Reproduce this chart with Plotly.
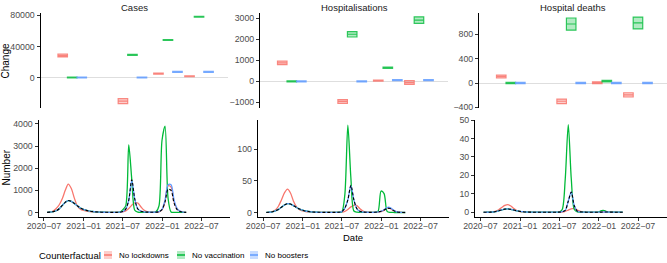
import datetime as dt
import plotly.graph_objects as go

W, H = 667, 263

# ---------------- data ----------------
counterfactuals = ["No lockdowns", "No vaccination", "No boosters"]
panel_titles = ["Cases", "Hospitalisations", "Hospital deaths"]

dates = [
    "2020-07-16", "2020-07-30", "2020-08-13", "2020-08-27", "2020-09-10", "2020-09-24",
    "2020-10-08", "2020-10-22", "2020-11-05", "2020-11-19", "2020-12-03", "2020-12-17",
    "2020-12-31", "2021-01-14", "2021-01-28", "2021-02-11", "2021-02-25", "2021-03-11",
    "2021-03-25", "2021-04-08", "2021-04-22", "2021-05-06", "2021-05-20", "2021-06-03",
    "2021-06-17", "2021-07-01", "2021-07-15", "2021-07-29", "2021-08-12", "2021-08-26",
    "2021-09-09", "2021-09-23", "2021-10-07", "2021-10-21", "2021-11-04", "2021-11-18",
    "2021-12-02", "2021-12-16", "2021-12-30", "2022-01-13", "2022-01-27", "2022-02-10",
    "2022-02-24", "2022-03-10", "2022-03-24", "2022-04-07", "2022-04-21",
]

# Cases (Number)
cases_actual = [5, 15, 40, 80, 170, 320, 460, 540, 500, 410, 300, 200,
                140, 95, 65, 45, 30, 20, 14, 10, 8, 6, 6, 7,
                12, 40, 150, 550, 1480, 600, 160, 60, 30, 18, 12, 12,
                15, 35, 130, 480, 1050, 1000, 420, 130, 45, 15, 6]
cases_no_lockdowns = [5, 15, 60, 180, 350, 620, 1000, 1280, 1080, 650, 300, 150,
                      90, 60, 42, 30, 20, 14, 10, 8, 6, 5, 5, 6,
                      10, 25, 70, 180, 330, 440, 430, 260, 110, 45, 20, 12,
                      12, 30, 120, 480, 1200, 1150, 480, 160, 55, 20, 8]
cases_no_vaccination = [5, 15, 40, 80, 170, 320, 460, 540, 500, 410, 300, 200,
                        140, 95, 65, 45, 30, 20, 14, 10, 8, 6, 6, 7,
                        15, 120, 300, 3050, 1500, 100, 15, 6, 5, 5, 5, 8,
                        30, 300, 3250, 3900, 650, 20, 5, 2, 1, 1, 1]
cases_no_boosters = [5, 15, 40, 80, 170, 320, 460, 540, 500, 410, 300, 200,
                     140, 95, 65, 45, 30, 20, 14, 10, 8, 6, 6, 7,
                     12, 40, 150, 550, 1450, 600, 160, 60, 30, 18, 12, 12,
                     15, 40, 140, 560, 1250, 1250, 560, 180, 60, 20, 8]

# Hospitalisations (Number)
hosp_actual = [0.2, 0.5, 1.2, 2.7, 5, 8.5, 12, 14, 13.5, 11, 8, 5.5,
               3.8, 2.5, 1.7, 1.1, 0.7, 0.5, 0.4, 0.3, 0.3, 0.3, 0.3, 0.3,
               0.5, 1.5, 7, 20, 43, 20, 6, 2, 0.8, 0.5, 0.4, 0.4,
               0.5, 1, 2, 4, 6.5, 6.5, 3.5, 1.3, 0.5, 0.2, 0.1]
hosp_no_lockdowns = [0.2, 0.5, 1.5, 4, 10, 20, 31, 37, 31, 18, 9, 4.5,
                     2.5, 1.5, 1, 0.7, 0.5, 0.4, 0.3, 0.3, 0.3, 0.3, 0.3, 0.3,
                     0.4, 0.8, 2, 5, 9, 11.5, 11, 6, 2.5, 1, 0.5, 0.4,
                     0.4, 0.6, 1.5, 3.5, 6.5, 6.5, 3.5, 1.3, 0.5, 0.2, 0.1]
hosp_no_vaccination = [0.2, 0.5, 1.2, 2.7, 5, 8.5, 12, 14, 13.5, 11, 8, 5.5,
                       3.8, 2.5, 1.7, 1.1, 0.7, 0.5, 0.4, 0.3, 0.3, 0.3, 0.3, 0.3,
                       0.5, 1, 28, 138, 55, 2.5, 0.6, 0.3, 0.3, 0.3, 0.3, 0.3,
                       0.4, 2, 34, 30, 2, 0.3, 0.2, 0.1, 0.1, 0.1, 0.1]
hosp_no_boosters = [0.2, 0.5, 1.2, 2.7, 5, 8.5, 12, 14, 13.5, 11, 8, 5.5,
                    3.8, 2.5, 1.7, 1.1, 0.7, 0.5, 0.4, 0.3, 0.3, 0.3, 0.3, 0.3,
                    0.5, 1.5, 7, 20, 42, 20, 6, 2, 0.8, 0.5, 0.4, 0.4,
                    0.5, 1, 2, 4.5, 8, 8, 4.5, 1.6, 0.6, 0.2, 0.1]

# Hospital deaths (Number)
deaths_actual = [0, 0, 0.05, 0.15, 0.4, 0.8, 1.3, 1.7, 1.8, 1.6, 1.2, 0.8,
                 0.5, 0.3, 0.15, 0.1, 0.05, 0.05, 0.05, 0.05, 0.05, 0.05, 0.05, 0.05,
                 0.05, 0.1, 0.3, 1, 6, 11, 3.5, 0.6, 0.2, 0.1, 0.05, 0.05,
                 0.05, 0.05, 0.05, 0.1, 0.15, 0.15, 0.1, 0.05, 0.05, 0.05, 0.05]
deaths_no_lockdowns = [0, 0, 0.05, 0.2, 0.6, 1.4, 2.6, 3.7, 4.2, 3.4, 2, 0.9,
                       0.4, 0.2, 0.1, 0.05, 0.05, 0.05, 0.05, 0.05, 0.05, 0.05, 0.05, 0.05,
                       0.05, 0.05, 0.15, 0.5, 1.2, 1.9, 2.1, 1.2, 0.5, 0.2, 0.1, 0.05,
                       0.05, 0.05, 0.05, 0.1, 0.2, 0.2, 0.1, 0.05, 0.05, 0.05, 0.05]
deaths_no_vaccination = [0, 0, 0.05, 0.15, 0.4, 0.8, 1.3, 1.7, 1.8, 1.6, 1.2, 0.8,
                         0.5, 0.3, 0.15, 0.1, 0.05, 0.05, 0.05, 0.05, 0.05, 0.05, 0.05, 0.05,
                         0.05, 0.1, 1.5, 18, 47.5, 18, 1.5, 0.2, 0.05, 0.05, 0.05, 0.05,
                         0.05, 0.05, 0.2, 0.9, 0.9, 0.2, 0.05, 0.05, 0.05, 0.05, 0.05]
deaths_no_boosters = [0, 0, 0.05, 0.15, 0.4, 0.8, 1.3, 1.7, 1.8, 1.6, 1.2, 0.8,
                      0.5, 0.3, 0.15, 0.1, 0.05, 0.05, 0.05, 0.05, 0.05, 0.05, 0.05, 0.05,
                      0.05, 0.1, 0.3, 1, 6, 11, 3.5, 0.6, 0.2, 0.1, 0.05, 0.05,
                      0.05, 0.05, 0.05, 0.1, 0.15, 0.15, 0.1, 0.05, 0.05, 0.05, 0.05]

# Change (crossbars) per wave
wave_dates = ["2020-11-03", "2021-08-15", "2022-01-30", "2022-06-26"]

cases_chg_lockdowns_mid = [28300, -30300, 5000, 1700]
cases_chg_lockdowns_lo = [26500, -33500, 4300, 1200]
cases_chg_lockdowns_hi = [30000, -27200, 5800, 2200]
cases_chg_vaccination_mid = [0, 29200, 48300, 78200]
cases_chg_vaccination_lo = [-400, 28500, 47700, 77600]
cases_chg_vaccination_hi = [400, 29900, 48900, 78800]
cases_chg_boosters_mid = [0, 0, 7200, 7200]
cases_chg_boosters_lo = [-400, -400, 6600, 6600]
cases_chg_boosters_hi = [400, 400, 7800, 7800]

hosp_chg_lockdowns_mid = [880, -960, 35, -60]
hosp_chg_lockdowns_lo = [790, -1050, 10, -150]
hosp_chg_lockdowns_hi = [960, -870, 60, 30]
hosp_chg_vaccination_mid = [0, 2240, 650, 2910]
hosp_chg_vaccination_lo = [-25, 2110, 620, 2760]
hosp_chg_vaccination_hi = [25, 2370, 680, 3070]
hosp_chg_boosters_mid = [-5, -5, 50, 50]
hosp_chg_boosters_lo = [-30, -30, 25, 25]
hosp_chg_boosters_hi = [20, 20, 75, 75]

deaths_chg_lockdowns_mid = [107, -300, 5, -195]
deaths_chg_lockdowns_lo = [85, -340, -10, -230]
deaths_chg_lockdowns_hi = [130, -265, 20, -160]
deaths_chg_vaccination_mid = [0, 971, 30, 988]
deaths_chg_vaccination_lo = [-10, 870, 18, 890]
deaths_chg_vaccination_hi = [10, 1070, 42, 1085]
deaths_chg_boosters_mid = [0, 0, 0, 0]
deaths_chg_boosters_lo = [-10, -10, -10, -10]
deaths_chg_boosters_hi = [10, 10, 10, 10]

# ---------------- styling ----------------
colors = ["#F8766D", "#00BA38", "#619CFF"]
fills = ["rgba(248,118,109,0.35)", "rgba(0,186,56,0.3)", "rgba(97,156,255,0.35)"]
edges = ["rgba(248,118,109,0.85)", "rgba(0,186,56,0.8)", "rgba(97,156,255,0.85)"]
FONT = "Liberation Sans, Arial, sans-serif"
TICK = "#4D4D4D"
x_range = ["2020-06-06", "2022-11-10"]
DODGE_DAYS = 45          # width of one crossbar / dodge step
DAY_MS = 86400000


def dodged(date_list, k):
    """Shift category dates by the dodge step for counterfactual k (0,1,2)."""
    out = []
    for d in date_list:
        base = dt.date.fromisoformat(d)
        out.append((base + dt.timedelta(days=(k - 1) * DODGE_DAYS)).isoformat())
    return out


def xd(a, b):
    return [a / W, b / W]


def yd(top, bottom):
    return [1 - bottom / H, 1 - top / H]


panels = [
    dict(
        number=[cases_no_lockdowns, cases_no_vaccination, cases_no_boosters, cases_actual],
        change=[(cases_chg_lockdowns_lo, cases_chg_lockdowns_mid, cases_chg_lockdowns_hi),
                (cases_chg_vaccination_lo, cases_chg_vaccination_mid, cases_chg_vaccination_hi),
                (cases_chg_boosters_lo, cases_chg_boosters_mid, cases_chg_boosters_hi)],
        top_x=(40.5, 228), bot_x=(38.5, 230),
        top_range=[-39600, 83400], top_ticks=[0, 40000, 80000],
        bot_range=[-190, 4200], bot_ticks=[0, 1000, 2000, 3000, 4000],
    ),
    dict(
        number=[hosp_no_lockdowns, hosp_no_vaccination, hosp_no_boosters, hosp_actual],
        change=[(hosp_chg_lockdowns_lo, hosp_chg_lockdowns_mid, hosp_chg_lockdowns_hi),
                (hosp_chg_vaccination_lo, hosp_chg_vaccination_mid, hosp_chg_vaccination_hi),
                (hosp_chg_boosters_lo, hosp_chg_boosters_mid, hosp_chg_boosters_hi)],
        top_x=(260, 448), bot_x=(257.7, 449),
        top_range=[-1286, 3267], top_ticks=[-1000, 0, 1000, 2000, 3000],
        bot_range=[-6.5, 147], bot_ticks=[0, 50, 100],
    ),
    dict(
        number=[deaths_no_lockdowns, deaths_no_vaccination, deaths_no_boosters, deaths_actual],
        change=[(deaths_chg_lockdowns_lo, deaths_chg_lockdowns_mid, deaths_chg_lockdowns_hi),
                (deaths_chg_vaccination_lo, deaths_chg_vaccination_mid, deaths_chg_vaccination_hi),
                (deaths_chg_boosters_lo, deaths_chg_boosters_mid, deaths_chg_boosters_hi)],
        top_x=(479, 667), bot_x=(475, 666.5),
        top_range=[-416, 1157], top_ticks=[-400, 0, 400, 800],
        bot_range=[-2.4, 50.3], bot_ticks=[0, 10, 20, 30, 40, 50],
    ),
]

fig = go.Figure()
layout = {}
annotations = []
shapes = []

for p, panel in enumerate(panels):
    ti = 2 * p + 1
    bi = 2 * p + 2
    tx, ty = f"x{ti}", f"y{ti}"
    bx, by = f"x{bi}", f"y{bi}"

    # crossbars (top)
    for c, (lo, mid, hi) in enumerate(panel["change"]):
        fig.add_trace(go.Box(
            x=dodged(wave_dates, c), q1=lo, median=mid, q3=hi, lowerfence=lo, upperfence=hi,
            width=DODGE_DAYS * DAY_MS,
            name=counterfactuals[c], showlegend=False,
            fillcolor=fills[c], line=dict(color=edges[c], width=1.2), whiskerwidth=0,
            boxpoints=False, xaxis=tx, yaxis=ty, hoverinfo="skip",
        ))

    # time series (bottom)
    for c, series in enumerate(panel["number"]):
        if c < 3:
            line = dict(color=colors[c], width=1.3, shape="spline", smoothing=0.8)
        else:
            line = dict(color="black", width=1.1, dash="3px,2px", shape="spline", smoothing=0.8)
        fig.add_trace(go.Scatter(
            x=dates, y=series, mode="lines", line=line, showlegend=False,
            xaxis=bx, yaxis=by, hoverinfo="skip",
        ))

    axis_common = dict(linecolor="black", linewidth=1, ticks="outside", ticklen=3,
                       tickwidth=1, tickcolor="#333333", showgrid=False, automargin=False,
                       tickfont=dict(size=8.8, color=TICK, family=FONT))

    layout[f"xaxis{ti}"] = dict(domain=xd(*panel["top_x"]), anchor=ty, type="date",
                                range=x_range, showline=False, showticklabels=False,
                                ticks="", showgrid=False, zeroline=False, automargin=False)
    layout[f"yaxis{ti}"] = dict(domain=yd(12.7, 108.3), anchor=tx, range=panel["top_range"],
                                tickvals=panel["top_ticks"], zeroline=True,
                                zerolinecolor="#DEDEDE", zerolinewidth=1,
                                showline=True, tickformat="d", **axis_common)
    layout[f"xaxis{bi}"] = dict(domain=xd(*panel["bot_x"]), anchor=by, type="date",
                                range=x_range, showline=True, zeroline=False,
                                tickvals=["2020-07-01", "2021-01-01", "2021-07-01",
                                          "2022-01-01", "2022-07-01"],
                                ticklabelstandoff=-2,
                                tickformat="%Y\u2212%m", **axis_common)
    layout[f"yaxis{bi}"] = dict(domain=yd(119.5, 216.7), anchor=bx, range=panel["bot_range"],
                                tickvals=panel["bot_ticks"], zeroline=False, showline=True,
                                **axis_common)

    cx = (panel["top_x"][0] + panel["top_x"][1]) / 2
    annotations.append(dict(text=panel_titles[p], x=cx / W, y=1 - 7 / H, xref="paper",
                            yref="paper", xanchor="center", yanchor="middle",
                            showarrow=False, font=dict(size=9.5, color="#1A1A1A", family=FONT)))

annotations += [
    dict(text="Change", x=5.5 / W, y=1 - 61 / H, xref="paper", yref="paper", textangle=-90,
         xanchor="center", yanchor="middle", showarrow=False,
         font=dict(size=10, color="black", family=FONT)),
    dict(text="Number", x=5.5 / W, y=1 - 168 / H, xref="paper", yref="paper", textangle=-90,
         xanchor="center", yanchor="middle", showarrow=False,
         font=dict(size=10, color="black", family=FONT)),
    dict(text="Date", x=353 / W, y=1 - 237 / H, xref="paper", yref="paper",
         xanchor="center", yanchor="middle", showarrow=False,
         font=dict(size=9.5, color="black", family=FONT)),
]

# legend (crossbar keys) drawn at the bottom
legend_y = 255
annotations.append(dict(text="Counterfactual", x=37 / W, y=1 - legend_y / H, xref="paper",
                        yref="paper", xanchor="left", yanchor="middle", showarrow=False,
                        font=dict(size=9.5, color="black", family=FONT)))
key_x = [104, 177, 250]
for c, name in enumerate(counterfactuals):
    k = key_x[c]
    shapes.append(dict(type="rect", xref="paper", yref="paper",
                       x0=k / W, x1=(k + 8) / W, y0=1 - (legend_y + 4) / H,
                       y1=1 - (legend_y - 4) / H, fillcolor=fills[c],
                       line=dict(width=0)))
    shapes.append(dict(type="line", xref="paper", yref="paper",
                       x0=k / W, x1=(k + 8) / W, y0=1 - legend_y / H, y1=1 - legend_y / H,
                       line=dict(color=colors[c], width=1.5)))
    annotations.append(dict(text=name, x=(k + 13) / W, y=1 - legend_y / H, xref="paper",
                            yref="paper", xanchor="left", yanchor="middle", showarrow=False,
                            font=dict(size=8, color="black", family=FONT)))

fig.update_layout(
    width=W, height=H,
    margin=dict(l=0, r=0, t=0, b=0, autoexpand=False),
    paper_bgcolor="white", plot_bgcolor="white",
    boxmode="overlay",
    font=dict(family=FONT, color="black"),
    annotations=annotations,
    shapes=shapes,
    showlegend=False,
    **layout,
)

fig.write_html(
    "out.html",
    config={"displayModeBar": False},
    post_script="document.body.style.margin='0px';document.body.style.padding='0px';",
)
